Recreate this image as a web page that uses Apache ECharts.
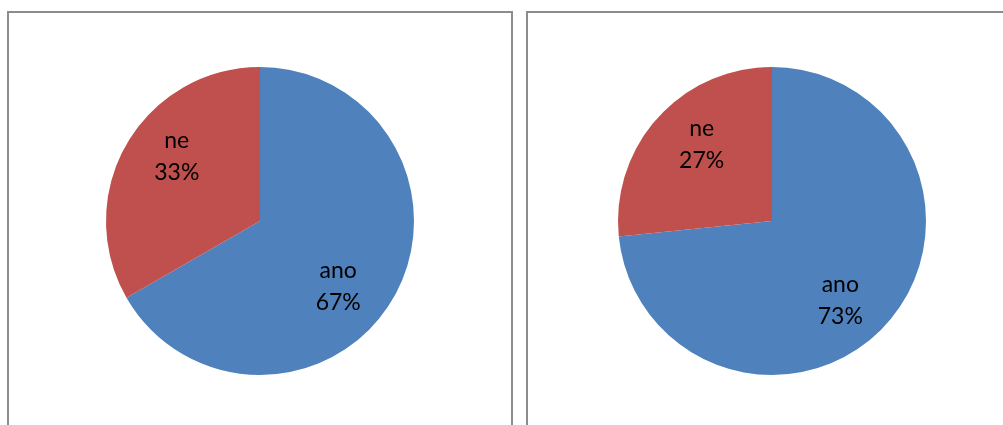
<!DOCTYPE html>
<html>
<head>
<meta charset="utf-8">
<script src="https://cdn.jsdelivr.net/npm/echarts@6/dist/echarts.min.js"></script>
<style>
  html, body { margin: 0; padding: 0; background: #fff; }
  #chart { width: 1003px; height: 425px; }
</style>
</head>
<body>
<div id="chart"></div>
<script>
var categories = ['ano', 'ne'];
var leftValues = [66.7, 33.3];
var rightValues = [73.4, 26.6];

var colors = ['#4F81BD', '#C0504D'];
// label nudges so they sit roughly where Excel put them
var leftOffsets = [[9, 26], [-14, -24]];
var rightOffsets = [[9, 26], [-11, -23]];

function buildData(values, offsets) {
  return categories.map(function (name, i) {
    return {
      name: name,
      value: values[i],
      itemStyle: { color: colors[i] },
      label: { offset: offsets[i] }
    };
  });
}

function pieSeries(center, values, offsets) {
  return {
    type: 'pie',
    center: center,
    radius: 154,
    startAngle: 90,
    clockwise: true,
    silent: true,
    animation: false,
    label: {
      show: true,
      position: 'inside',
      formatter: function (p) { return p.name + '\n' + Math.round(p.percent) + '%'; },
      color: '#000',
      fontFamily: 'Lato',
      fontSize: 23,
      lineHeight: 32
    },
    labelLine: { show: false },
    itemStyle: { borderWidth: 0 },
    data: buildData(values, offsets)
  };
}

var chart = echarts.init(document.getElementById('chart'), null, { renderer: 'canvas' });
var option = {
  backgroundColor: '#fff',
  graphic: [
    {
      type: 'rect',
      shape: { x: 8, y: 12, width: 504, height: 430 },
      style: { fill: 'none', stroke: '#8c8c8c', lineWidth: 2 }
    },
    {
      type: 'rect',
      shape: { x: 527, y: 12, width: 490, height: 430 },
      style: { fill: 'none', stroke: '#8c8c8c', lineWidth: 2 }
    }
  ],
  series: [
    pieSeries([260, 221], leftValues, leftOffsets),
    pieSeries([772, 221], rightValues, rightOffsets)
  ]
};
chart.setOption(option);
</script>
</body>
</html>
